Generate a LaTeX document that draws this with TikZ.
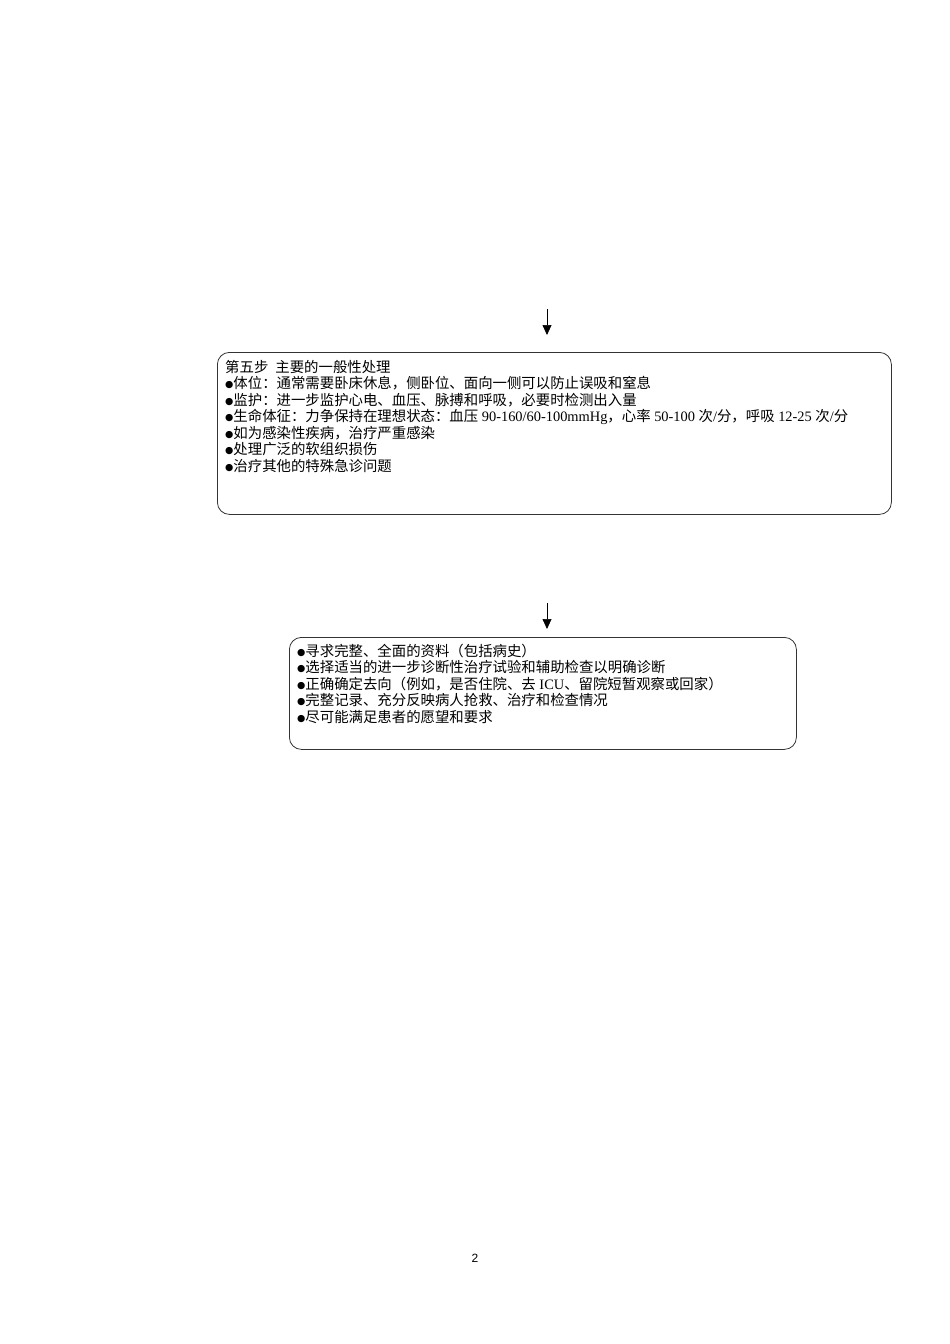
\documentclass[tikz,border=0pt]{standalone}
\usepackage{fontspec}
\setmainfont{Liberation Serif}
\newfontfamily\cjk{Noto Sans CJK SC}
\newfontfamily\dejavu{DejaVu Sans}
\newfontfamily\pgsans{Liberation Sans}
\usetikzlibrary{arrows.meta}
\newcommand{\bul}{{\dejavu\fontsize{9.5}{9.5}\selectfont\raisebox{0.6pt}{●}}}
\begin{document}
\begin{tikzpicture}[x=1pt,y=-1pt,
  txt/.style={anchor=base west,inner sep=0pt,font=\fontsize{14.4}{16.5}\selectfont},
  boxst/.style={draw=black!80,line width=0.8pt,rounded corners=12pt,anchor=north west,inner sep=0pt},
  arr/.style={line width=0.7pt,-{Triangle[width=9pt,length=10pt]}}]
\useasboundingbox (0,0) rectangle (950,1344);
% arrow 1
\coordinate (a1s) at (547,309);
\coordinate (a1e) at (547,335);
\draw[arr] (a1s) -- (a1e);
% box 1
\node[boxst,minimum width=674pt,minimum height=162pt] (box1) at (217,352) {};
\node[txt] (b1l1) at (225,372) {\cjk 第五步\hspace{7pt}主要的一般性处理};
\node[txt] (b1l2) at (225,388.5) {\bul{\cjk 体位：通常需要卧床休息，侧卧位、面向一侧可以防止误吸和窒息}};
\node[txt] (b1l3) at (225,405) {\bul{\cjk 监护：进一步监护心电、血压、脉搏和呼吸，必要时检测出入量}};
\node[txt] (b1l4) at (225,421.5) {\bul{\cjk 生命体征：力争保持在理想状态：血压} 90-160/60-100mmHg{\cjk ，心率} 50-100 {\cjk 次}/{\cjk 分，呼吸} 12-25 {\cjk 次}/{\cjk 分}};
\node[txt] (b1l5) at (225,438) {\bul{\cjk 如为感染性疾病，治疗严重感染}};
\node[txt] (b1l6) at (225,454.5) {\bul{\cjk 处理广泛的软组织损伤}};
\node[txt] (b1l7) at (225,471) {\bul{\cjk 治疗其他的特殊急诊问题}};
% arrow 2
\coordinate (a2s) at (547,603);
\coordinate (a2e) at (547,629);
\draw[arr] (a2s) -- (a2e);
% box 2
\node[boxst,minimum width=507pt,minimum height=112pt] (box2) at (289,637) {};
\node[txt] (b2l1) at (297,656) {\bul{\cjk 寻求完整、全面的资料（包括病史）}};
\node[txt] (b2l2) at (297,672.5) {\bul{\cjk 选择适当的进一步诊断性治疗试验和辅助检查以明确诊断}};
\node[txt] (b2l3) at (297,689) {\bul{\cjk 正确确定去向（例如，是否住院、去} ICU{\cjk 、留院短暂观察或回家）}};
\node[txt] (b2l4) at (297,705.5) {\bul{\cjk 完整记录、充分反映病人抢救、治疗和检查情况}};
\node[txt] (b2l5) at (297,722) {\bul{\cjk 尽可能满足患者的愿望和要求}};
% page number
\node[anchor=base,inner sep=0pt,font=\pgsans\fontsize{12}{12}\selectfont] (pg) at (475,1262) {2};
\end{tikzpicture}
\end{document}
